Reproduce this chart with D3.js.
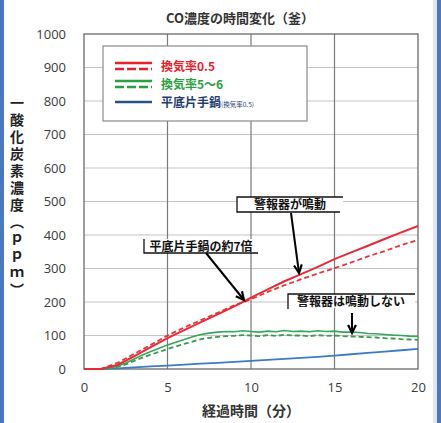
<!DOCTYPE html>
<html><head><meta charset="utf-8">
<script src="https://cdn.jsdelivr.net/npm/d3@7"></script>
<style>
html,body{margin:0;padding:0;background:#fff;}
svg{display:block;}
</style>
</head><body>
<script>
// ---- data ----
const xTicks = [0, 5, 10, 15, 20];
const yTicks = [0, 100, 200, 300, 400, 500, 600, 700, 800, 900, 1000];
const tMin1 = [0,1,2,3,4,5,6,7,8,9,10,11,12,13,14,15,16,17,18,19,20];
const redSolid  = [0,0,12,38,65,92,116,140,163,187,213,238,262,283,305,328,348,368,388,408,427];
const redDashed = [0,0,18,45,72,100,124,146,168,190,208,230,250,268,285,301,318,336,352,370,385];
const blueLine  = [0,0,2,5,8,10,13,16,18,21,24,27,30,33,36,40,44,48,52,56,60];
const tHalf = [0,0.5,1,1.5,2,2.5,3,3.5,4,4.5,5,5.5,6,6.5,7,7.5,8,8.5,9,9.5,10,10.5,11,11.5,12,12.5,13,13.5,14,14.5,15,15.5,16,16.5,17,17.5,18,18.5,19,19.5,20];
const greenSolid  = [0,0,0,2,8,18,30,42,52,62,72,80,88,96,103,107,110,112,111,114,112,110,113,111,115,112,113,111,114,112,113,110,110,109,106,105,103,101,100,98,97];
const greenDashed = [0,0,0,1,6,14,24,34,43,51,60,67,75,82,89,93,96,98,99,101,100,98,101,99,102,100,100,98,101,99,100,98,97,96,95,94,92,91,89,88,87];
const legendLabels = ["換気率0.5", "換気率5～6", "平底片手鍋"];
const title = "CO濃度の時間変化（釜）";
const xTitle = "経過時間（分）";
const yTitle = "一酸化炭素濃度（ｐｐｍ）";

const W = 441, H = 423;
const svg = d3.select("body").append("svg").attr("width", W).attr("height", H);
const jp = "'Noto Sans CJK JP','Noto Sans',sans-serif";
const num = "'Open Sans','Liberation Sans',sans-serif";

// frame
svg.append("rect").attr("x",0).attr("y",0).attr("width",W).attr("height",H).attr("fill","#fff");
svg.append("rect").attr("x",0).attr("y",0).attr("width",4).attr("height",H).attr("fill","#4a78c2");
svg.append("rect").attr("x",433).attr("y",0).attr("width",4).attr("height",H).attr("fill","#dfe6f0");
svg.append("rect").attr("x",437).attr("y",0).attr("width",4).attr("height",H).attr("fill","#4a78c2");

const x = d3.scaleLinear().domain([0,20]).range([84,418]);
const y = d3.scaleLinear().domain([0,1000]).range([369,34]);

// horizontal gridlines
svg.append("g").selectAll("line").data(yTicks.slice(1,-1)).join("line")
  .attr("x1",x(0)).attr("x2",x(20)).attr("y1",d=>y(d)).attr("y2",d=>y(d))
  .attr("stroke","#c4c4c4").attr("stroke-width",1.2);
// vertical gridlines
svg.append("g").selectAll("line").data(xTicks.slice(1,-1)).join("line")
  .attr("y1",y(0)).attr("y2",y(1000)).attr("x1",d=>x(d)).attr("x2",d=>x(d))
  .attr("stroke","#7a7a7a").attr("stroke-width",1.2);
// border
svg.append("rect").attr("x",x(0)).attr("y",y(1000)).attr("width",x(20)-x(0)).attr("height",y(0)-y(1000))
  .attr("fill","none").attr("stroke","#6a6a6a").attr("stroke-width",1.3);

// axes labels
const yAxis = d3.axisLeft(y).tickValues(yTicks).tickFormat(d3.format("d")).tickSize(0).tickPadding(18);
const gy = svg.append("g").attr("transform",`translate(${x(0)},0)`).call(yAxis);
gy.select(".domain").remove();
gy.selectAll("text").attr("font-family",num).attr("font-size",13).attr("fill","#3a3a3a");
const xAxis = d3.axisBottom(x).tickValues(xTicks).tickFormat(d3.format("d")).tickSize(0).tickPadding(14);
const gx = svg.append("g").attr("transform",`translate(0,${y(0)})`).call(xAxis);
gx.select(".domain").remove();
gx.selectAll("text").attr("font-family",num).attr("font-size",13).attr("fill","#3a3a3a");

// titles
svg.append("text").attr("x",240).attr("y",23).attr("text-anchor","middle")
  .attr("font-family",jp).attr("font-weight","bold").attr("font-size",13).attr("fill","#333").text(title);
svg.append("text").attr("x",251).attr("y",416).attr("text-anchor","middle")
  .attr("font-family",jp).attr("font-weight","bold").attr("font-size",14).attr("fill","#333").text(xTitle);
svg.append("text").attr("x",17).attr("y",96)
  .style("writing-mode","vertical-rl").style("text-orientation","upright")
  .attr("letter-spacing",3)
  .attr("font-family",jp).attr("font-weight","bold").attr("font-size",14).attr("fill","#222").text(yTitle);

// series
const ln = (xs) => d3.line().x((d,i)=>x(xs[i])).y(d=>y(d));
const plot = svg.append("g");
plot.append("path").datum(blueLine).attr("d",ln(tMin1)).attr("fill","none").attr("stroke","#3b7cc4").attr("stroke-width",1.8);
plot.append("path").datum(greenDashed).attr("d",ln(tHalf)).attr("fill","none").attr("stroke","#3a9a52").attr("stroke-width",1.8).attr("stroke-dasharray","5,3");
plot.append("path").datum(greenSolid).attr("d",ln(tHalf)).attr("fill","none").attr("stroke","#33a85a").attr("stroke-width",1.6);
plot.append("path").datum(redDashed).attr("d",ln(tMin1)).attr("fill","none").attr("stroke","#e8333b").attr("stroke-width",1.8).attr("stroke-dasharray","5,3");
plot.append("path").datum(redSolid).attr("d",ln(tMin1)).attr("fill","none").attr("stroke","#e82a36").attr("stroke-width",2);

// legend
const lg = svg.append("g");
lg.append("rect").attr("x",103).attr("y",46).attr("width",204).attr("height",75).attr("fill","#fff").attr("stroke","#8a8a8a").attr("stroke-width",1.2);
const legColors = ["#e8202a","#2aa040","#1f3d70"];
const legY = [66, 84, 102];
legendLabels.forEach((lab,i)=>{
  if (i<2) {
    lg.append("line").attr("x1",115).attr("x2",152).attr("y1",legY[i]-3).attr("y2",legY[i]-3).attr("stroke",legColors[i]).attr("stroke-width",2.5);
    lg.append("line").attr("x1",115).attr("x2",152).attr("y1",legY[i]+3).attr("y2",legY[i]+3).attr("stroke",legColors[i]).attr("stroke-width",2.5).attr("stroke-dasharray","9,3");
  } else {
    lg.append("line").attr("x1",115).attr("x2",152).attr("y1",legY[i]).attr("y2",legY[i]).attr("stroke","#2a4f8a").attr("stroke-width",2.5);
  }
  const t = lg.append("text").attr("x",161).attr("y",legY[i]+4.5).attr("font-family",jp).attr("font-weight","bold").attr("font-size",12).attr("fill",legColors[i]).text(lab);
  if (i===2) t.append("tspan").attr("font-size",6.5).attr("font-weight","normal").text("(換気率0.5)");
});

// annotations
const ann = svg.append("g").attr("font-family",jp).attr("font-weight","bold").attr("font-size",12).attr("fill","#111");
function arrow(x1,y1,x2,y2){
  ann.append("line").attr("x1",x1).attr("y1",y1).attr("x2",x2).attr("y2",y2).attr("stroke","#000").attr("stroke-width",2);
  const a = Math.atan2(y2-y1,x2-x1), L=9, s=0.45;
  const p = [[x2-L*Math.cos(a-s), y2-L*Math.sin(a-s)],[x2,y2],[x2-L*Math.cos(a+s), y2-L*Math.sin(a+s)]];
  ann.append("path").attr("d",d3.line()(p)).attr("fill","none").attr("stroke","#000").attr("stroke-width",2.2);
}
// 1
ann.append("rect").attr("x",237).attr("y",197).attr("width",106).attr("height",15).attr("fill","#fff");
ann.append("path").attr("d","M343,197H237V212H340").attr("fill","none").attr("stroke","#111").attr("stroke-width",1.3);
ann.append("text").attr("x",290).attr("y",209).attr("text-anchor","middle").text("警報器が鳴動");
arrow(291,213,299,273);
// 2
ann.append("rect").attr("x",144).attr("y",239).attr("width",114).attr("height",14).attr("fill","#fff");
ann.append("path").attr("d","M144,239V253H258").attr("fill","none").attr("stroke","#111").attr("stroke-width",1.3);
ann.append("text").attr("x",201).attr("y",251).attr("text-anchor","middle").text("平底片手鍋の約7倍");
arrow(206,253,244,300);
// 3
ann.append("rect").attr("x",288).attr("y",294).attr("width",127).attr("height",14).attr("fill","#fff");
ann.append("path").attr("d","M415,294H288V309").attr("fill","none").attr("stroke","#111").attr("stroke-width",1.3);
ann.append("text").attr("x",351).attr("y",306).attr("text-anchor","middle").text("警報器は鳴動しない");
arrow(352,313,352,333);
</script>
</body></html>
